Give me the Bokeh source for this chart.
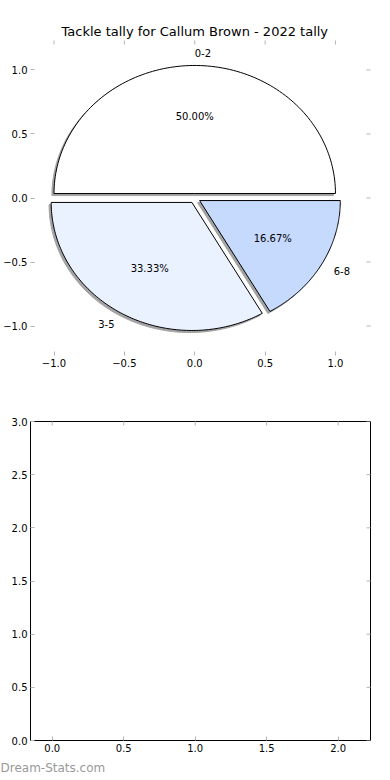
import numpy as np
from bokeh.plotting import figure
from bokeh.layouts import column
from bokeh.models import Range1d, FixedTicker, CustomJSTickFormatter, ColumnDataSource, Title
from bokeh.core.properties import value
from bokeh.embed import file_html
from bokeh.resources import INLINE

# ---- data ----
categories = ["0-2", "3-5", "6-8"]
counts = [3, 2, 1]
explode = [0.035, 0.04, 0.04]
colors = ["#ffffff", "#ebf2ff", "#c6dafe"]
pie_ticks = [-1.0, -0.5, 0.0, 0.5, 1.0]
bottom_xticks = [0.0, 0.5, 1.0, 1.5, 2.0]
bottom_yticks = [0.0, 0.5, 1.0, 1.5, 2.0, 2.5, 3.0]
title_text = "Tackle tally for Callum Brown - 2022 tally"
watermark_text = "Dream-Stats.com"

pie_xlim = (-1.167, 1.249)
pie_ylim = (-1.23, 1.23)
bar_xlim = (-0.152, 2.226)
bar_ylim = (0.0, 3.0)

FONT = "DejaVu Sans"
TICK = "#b4b4b4"
SHADOW = "#a3a3a3"
LEFT = 30

fmt = CustomJSTickFormatter(code="return tick.toFixed(1).replace('-', '\\u2212');")


def style_axis(ax, ticks):
    ax.ticker = FixedTicker(ticks=ticks)
    ax.major_tick_in = 4
    ax.major_tick_out = 0
    ax.minor_tick_in = 0
    ax.minor_tick_out = 0
    ax.major_tick_line_color = TICK
    ax.major_tick_line_width = 1
    ax.axis_line_color = None
    ax.axis_label_standoff = 0
    ax.formatter = fmt
    ax.major_label_text_font = FONT
    ax.major_label_text_color = "black"
    ax.major_label_text_font_size = "10px"
    ax.major_label_standoff = 3


def make_fig(height, xlim, ylim, top, bottom, xt, yt):
    p = figure(width=390, height=height, x_range=Range1d(*xlim), y_range=Range1d(*ylim),
               output_backend="svg", toolbar_location=None,
               min_border_left=LEFT, min_border_right=20,
               min_border_top=top, min_border_bottom=bottom)
    p.grid.visible = False
    p.background_fill_color = "white"
    p.border_fill_color = "white"
    style_axis(p.xaxis[0], xt)
    style_axis(p.yaxis[0], yt)
    # mirrored inward ticks on the right and top edges (half clipped by frame)
    p.scatter(x=[xlim[1]] * len(yt), y=yt, marker="dash", size=8,
              line_color=TICK, line_width=1)
    p.scatter(x=xt, y=[ylim[1]] * len(xt), marker="dash", size=8, angle=np.pi / 2,
              line_color=TICK, line_width=1)
    return p


# ---- top: pie ----
p1 = make_fig(392, pie_xlim, pie_ylim, 40, 37, pie_ticks, pie_ticks)
p1.outline_line_color = None
p1.title.text = title_text
p1.title.text_font = FONT
p1.title.text_font_size = "13px"
p1.title.text_font_style = "normal"
p1.title.text_color = "black"
p1.title.align = "left"
p1.title.offset = 31
p1.title.standoff = 4

total = float(sum(counts))
fracs = [c / total for c in counts]
shadow_dx, shadow_dy = -0.015, -0.016

wx, wy, sx, sy = [], [], [], []
lab_x, lab_y, lab_t, lab_a = [], [], [], []
pct_x, pct_y, pct_t = [], [], []
theta = 0.0
for cat, fr, ex in zip(categories, fracs, explode):
    t1 = theta
    t2 = theta + 2 * np.pi * fr
    theta = t2
    mid = 0.5 * (t1 + t2)
    cx = ex * np.cos(mid)
    cy = ex * np.sin(mid)
    ang = np.linspace(t1, t2, 120)
    xs = np.concatenate([[cx], cx + np.cos(ang), [cx]])
    ys = np.concatenate([[cy], cy + np.sin(ang), [cy]])
    wx.append(list(xs))
    wy.append(list(ys))
    sx.append(list(xs + shadow_dx))
    sy.append(list(ys + shadow_dy))
    lab_x.append(cx + 1.1 * np.cos(mid))
    lab_y.append(cy + 1.1 * np.sin(mid))
    lab_t.append(cat)
    lab_a.append("left" if np.cos(mid) > 0 else "right")
    pct_x.append(cx + 0.6 * np.cos(mid))
    pct_y.append(cy + 0.6 * np.sin(mid))
    pct_t.append(f"{100 * fr:.2f}%")

p1.patches(xs=sx, ys=sy, fill_color=SHADOW, line_color=SHADOW, line_width=1)
p1.patches(xs=wx, ys=wy, fill_color=colors, line_color="black", line_width=1)

lab_src = ColumnDataSource(dict(x=lab_x, y=lab_y, text=lab_t, align=lab_a))
p1.text(x="x", y="y", text="text", source=lab_src, text_align="align",
        text_baseline="middle", text_font=value(FONT), text_font_size="10px",
        text_color="black")
pct_src = ColumnDataSource(dict(x=pct_x, y=pct_y, text=pct_t))
p1.text(x="x", y="y", text="text", source=pct_src, text_align="center",
        text_baseline="middle", text_font=value(FONT), text_font_size="10px",
        text_color="black")

# ---- bottom: empty axes ----
p2 = make_fig(388, bar_xlim, bar_ylim, 29, 40, bottom_xticks, bottom_yticks)
p2.outline_line_color = "black"
p2.outline_line_width = 1
wm = Title(text=watermark_text, align="left", text_color="#999999",
           text_font=FONT, text_font_size="12px", text_font_style="normal",
           offset=-LEFT, standoff=9)
p2.add_layout(wm, "below")

layout = column(p1, p2, spacing=0)
with open("out.html", "w", encoding="utf-8") as f:
    f.write(file_html(layout, INLINE))
